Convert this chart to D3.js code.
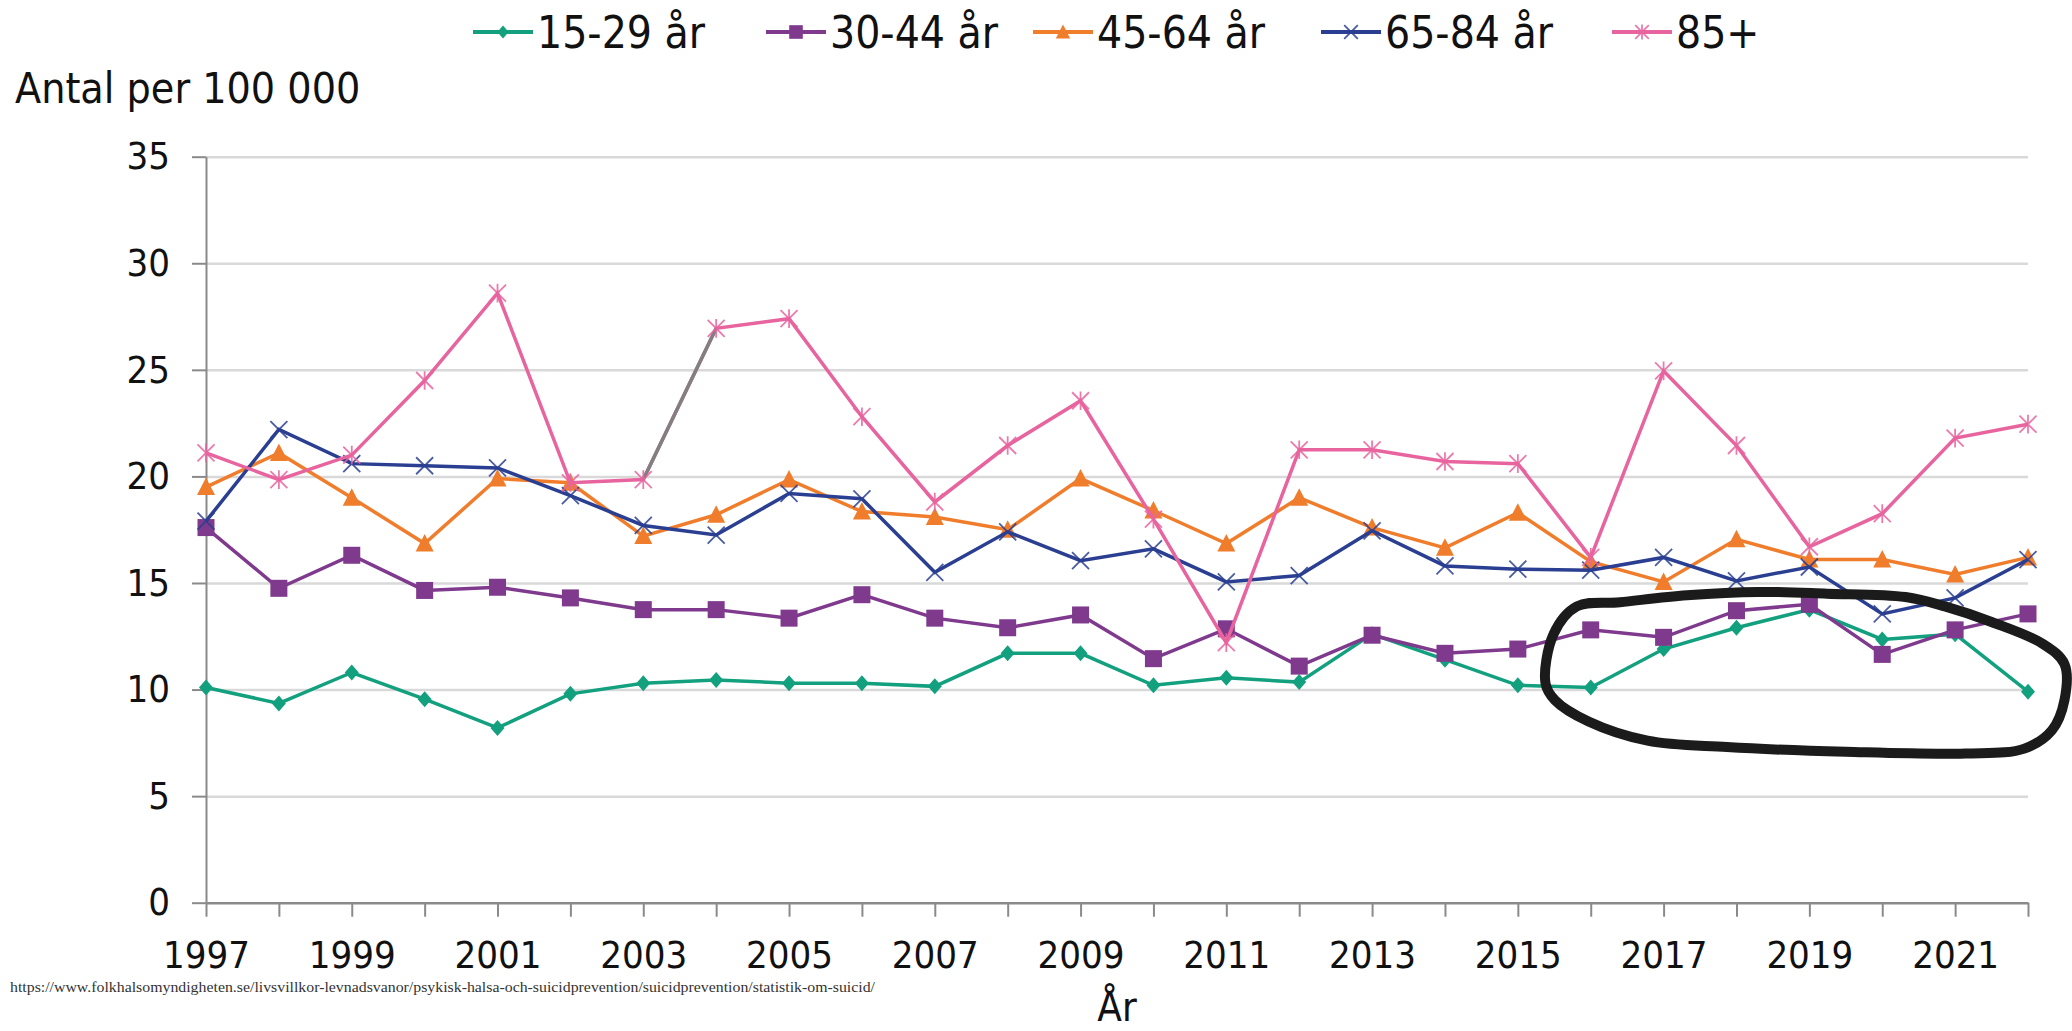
<!DOCTYPE html>
<html>
<head>
<meta charset="utf-8">
<script src="https://cdn.jsdelivr.net/npm/d3@7"></script>
<style>
    body { margin: 0; background: #fff; }
    text { font-family: "DejaVu Sans Condensed", "DejaVu Sans", sans-serif; fill: #111; }
</style>
</head>
<body>
<div id="chart"></div>
<script>
// years and rates per 100 000
const years = [1997, 1998, 1999, 2000, 2001, 2002, 2003, 2004, 2005, 2006, 2007, 2008, 2009,
               2010, 2011, 2012, 2013, 2014, 2015, 2016, 2017, 2018, 2019, 2020, 2021, 2022];
const labelYears = [1997, 1999, 2001, 2003, 2005, 2007, 2009, 2011, 2013, 2015, 2017, 2019, 2021];
const yTicks = [0, 5, 10, 15, 20, 25, 30, 35];

const age1529 = [10.1, 9.35, 10.8, 9.55, 8.2, 9.8, 10.3, 10.45, 10.3, 10.3, 10.15, 11.7, 11.7,
                 10.2, 10.55, 10.35, 12.6, 11.4, 10.2, 10.1, 11.9, 12.9, 13.75, 12.35, 12.6, 9.9];
const age3044 = [17.6, 14.75, 16.3, 14.65, 14.8, 14.3, 13.75, 13.75, 13.35, 14.45, 13.35, 12.9, 13.5,
                 11.45, 12.85, 11.1, 12.55, 11.7, 11.9, 12.8, 12.45, 13.7, 14.0, 11.65, 12.8, 13.55];
const age4564 = [19.5, 21.1, 19.0, 16.85, 19.9, 19.7, 17.2, 18.2, 19.85, 18.35, 18.1, 17.5, 19.9,
                 18.4, 16.85, 19.0, 17.6, 16.65, 18.3, 16.0, 15.05, 17.05, 16.1, 16.1, 15.4, 16.2];
const age6584 = [17.9, 22.2, 20.6, 20.5, 20.4, 19.1, 17.7, 17.25, 19.2, 18.95, 15.5, 17.4, 16.05,
                 16.6, 15.05, 15.35, 17.45, 15.8, 15.65, 15.6, 16.2, 15.1, 15.75, 13.55, 14.3, 16.1];
const age85 = [21.1, 19.85, 21.0, 24.5, 28.6, 19.7, 19.85, 26.95, 27.4, 22.8, 18.8, 21.45, 23.55,
               18.0, 12.2, 21.25, 21.25, 20.7, 20.6, 16.2, 24.95, 21.45, 16.7, 18.25, 21.8, 22.45];

const seriesNames = ["15-29 år", "30-44 år", "45-64 år", "65-84 år", "85+"];
const seriesColors = ["#12a07f", "#7f3a8e", "#f07d2c", "#2a3f91", "#e8649f"];
const seriesMarkers = ["diamond", "square", "triangle", "cross", "star"];

// the 2003-2004 piece of the 85+ line is grey in the original
const greySegment = [2003, 2004];

// hand drawn loop around 2015-2022 (year, value)
const loopYears = [2015.38, 2015.49, 2015.81, 2016.4, 2017.32, 2018.3, 2019.24, 2020.32, 2020.86, 2021.5,
                   2022.2, 2022.5, 2022.5, 2022.33, 2021.95, 2021.14, 2019.5, 2017.87, 2016.78, 2015.97, 2015.51];
const loopValues = [10.28, 12.6, 13.9, 14.1, 14.42, 14.58, 14.5, 14.34, 13.9, 13.17,
                    12.15, 11.2, 9.5, 8.1, 7.23, 7.0, 7.08, 7.3, 7.6, 8.5, 9.5];

const source = "https://www.folkhalsomyndigheten.se/livsvillkor-levnadsvanor/psykisk-halsa-och-suicidprevention/suicidprevention/statistik-om-suicid/";

class SuicideRateChart {

    constructor(parentElement) {
        this.parentElement = parentElement;
        this.series = [age1529, age3044, age4564, age6584, age85].map((vals, i) => ({
            name: seriesNames[i],
            color: seriesColors[i],
            marker: seriesMarkers[i],
            values: years.map((yr, j) => ({ year: yr, value: vals[j] }))
        }));
        this.initVis();
    }

    initVis() {
        let vis = this;

        vis.width = 2072;
        vis.height = 1031;

        vis.svg = d3.select("#" + vis.parentElement).append("svg")
            .attr("width", vis.width)
            .attr("height", vis.height);

        vis.x = d3.scaleLinear().domain([1997, 2022]).range([206, 2028]);
        vis.y = d3.scaleLinear().domain([0, 35]).range([902.7, 156.7]);

        // gridlines
        vis.svg.append("g")
            .attr("transform", `translate(${vis.x(1997)},0)`)
            .call(d3.axisLeft(vis.y).tickValues(yTicks.filter(d => d > 0))
                .tickSize(-(vis.x(2022) - vis.x(1997))).tickFormat(""))
            .call(g => g.select(".domain").remove())
            .call(g => g.selectAll("line").attr("stroke", "#d9d9d9").attr("stroke-width", 2.5));

        // y axis
        vis.svg.append("g")
            .attr("transform", `translate(${vis.x(1997)},0)`)
            .call(d3.axisLeft(vis.y).tickValues(yTicks).tickSize(14).tickSizeOuter(0).tickPadding(22))
            .call(g => g.select(".domain").attr("stroke", "#8a8a8a").attr("stroke-width", 2))
            .call(g => g.selectAll("line").attr("stroke", "#8a8a8a").attr("stroke-width", 2))
            .call(g => g.selectAll("text").attr("font-size", 38).attr("font-family", null).attr("fill", "#111"));

        // x axis
        vis.svg.append("g")
            .attr("transform", `translate(0,${vis.y(0)})`)
            .call(d3.axisBottom(vis.x).tickValues(years).tickSize(14).tickSizeOuter(0).tickPadding(24)
                .tickFormat(d => labelYears.includes(d) ? String(d) : ""))
            .call(g => g.select(".domain").attr("stroke", "#8a8a8a").attr("stroke-width", 2.5))
            .call(g => g.selectAll("line").attr("stroke", "#8a8a8a").attr("stroke-width", 2))
            .call(g => g.selectAll("text").attr("font-size", 38).attr("font-family", null).attr("fill", "#111"));

        vis.svg.append("text")
            .attr("x", 15).attr("y", 103)
            .attr("font-size", 42.5)
            .text("Antal per 100 000");

        vis.svg.append("text")
            .attr("x", (vis.x(1997) + vis.x(2022)) / 2).attr("y", 1021)
            .attr("text-anchor", "middle")
            .attr("font-size", 40)
            .text("År");

        vis.svg.append("text")
            .attr("x", 10).attr("y", 992)
            .attr("font-size", 15)
            .attr("textLength", 865)
            .attr("lengthAdjust", "spacingAndGlyphs")
            .style("font-family", "'Liberation Serif', serif")
            .style("fill", "#333")
            .text(source);

        vis.line = d3.line().x(d => vis.x(d.year)).y(d => vis.y(d.value));

        vis.drawLegend();
        vis.updateVis();
    }

    marker(sel, type, color, s) {
        if (type === "diamond") {
            sel.append("path").attr("d", `M0,${-8 * s}L${7 * s},0L0,${8 * s}L${-7 * s},0Z`).attr("fill", color);
        } else if (type === "square") {
            sel.append("rect").attr("x", -8.5 * s).attr("y", -8.5 * s)
                .attr("width", 17 * s).attr("height", 17 * s).attr("fill", color);
        } else if (type === "triangle") {
            sel.append("path").attr("d", `M0,${-9.5 * s}L${9 * s},${8 * s}L${-9 * s},${8 * s}Z`).attr("fill", color);
        } else {
            let r = 8.5 * s;
            let d = `M${-r},${-r}L${r},${r}M${-r},${r}L${r},${-r}`;
            if (type === "star") d += `M0,${-r * 1.1}L0,${r * 1.1}`;
            sel.append("path").attr("d", d).attr("stroke", color)
                .attr("stroke-width", 1.8).attr("fill", "none").attr("opacity", 0.85);
        }
    }

    drawLegend() {
        let vis = this;
        const starts = [473, 766, 1033, 1321, 1612];

        vis.series.forEach((s, i) => {
            let g = vis.svg.append("g").attr("transform", `translate(${starts[i]},32)`);
            g.append("line").attr("x1", 0).attr("x2", 60)
                .attr("stroke", s.color).attr("stroke-width", 4);
            vis.marker(g.append("g").attr("transform", "translate(30,0)"), s.marker, s.color, 0.8);
            g.append("text").attr("x", 64).attr("y", 16)
                .attr("font-size", 44)
                .text(s.name);
        });
    }

    updateVis() {
        let vis = this;

        let lines = vis.svg.append("g");
        vis.series.forEach(s => {
            lines.append("path")
                .datum(s.values)
                .attr("d", vis.line)
                .attr("fill", "none")
                .attr("stroke", s.color)
                .attr("stroke-width", 3.5);

            if (s.name === "85+") {
                lines.append("path")
                    .datum(s.values.filter(d => greySegment.includes(d.year)))
                    .attr("d", vis.line)
                    .attr("fill", "none")
                    .attr("stroke", "#808080")
                    .attr("stroke-width", 3.5);
            }

            lines.selectAll(null)
                .data(s.values)
                .enter()
                .append("g")
                .attr("transform", d => `translate(${vis.x(d.year)},${vis.y(d.value)})`)
                .each(function () { vis.marker(d3.select(this), s.marker, s.color, 1); });
        });

        // black freehand loop
        let loop = loopYears.map((yr, i) => [vis.x(yr), vis.y(loopValues[i])]);
        vis.svg.append("path")
            .attr("d", d3.line().curve(d3.curveCatmullRomClosed)(loop))
            .attr("fill", "none")
            .attr("stroke", "#1b1b1b")
            .attr("stroke-width", 10)
            .attr("stroke-linejoin", "round");
    }
}

new SuicideRateChart("chart");
</script>
</body>
</html>
